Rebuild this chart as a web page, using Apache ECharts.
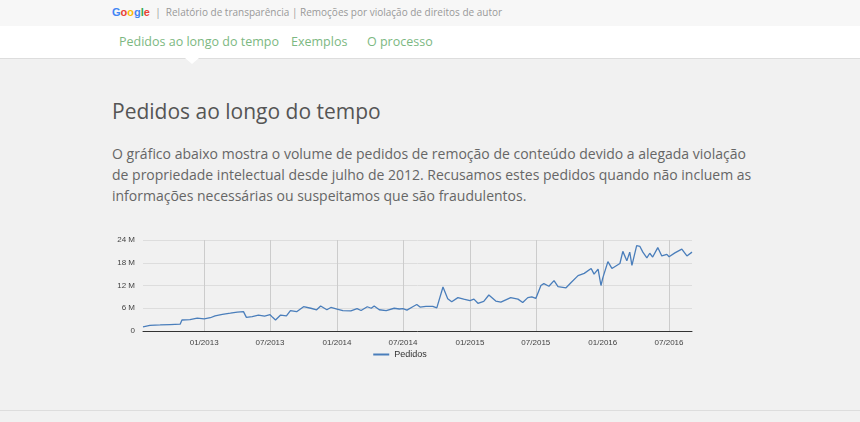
<!DOCTYPE html>
<html><head><meta charset="utf-8">
<script src="https://cdn.jsdelivr.net/npm/echarts@6/dist/echarts.min.js"></script>
<style>
body{margin:0;width:860px;height:422px;background:#f1f1f1;font-family:"Open Sans",Roboto,Arial,sans-serif;position:relative;overflow:hidden}
#top{position:absolute;left:0;top:0;width:860px;height:26px;background:#f7f7f7;font-size:10px;color:#999;line-height:24px}
#top .t{position:absolute;left:112px}
#top b{font-weight:bold;font-size:11px;font-family:Arial,sans-serif}
#nav{position:absolute;left:0;top:26px;width:860px;height:32px;background:#fff;border-bottom:1px solid #ddd}
#nav span{position:absolute;top:7px;font-size:12.5px;color:#7cb882}
#tri{position:absolute;left:185px;top:58px;width:0;height:0;border-left:7px solid transparent;border-right:7px solid transparent;border-top:6px solid #fff}
h1{position:absolute;left:112px;top:97px;margin:0;font-weight:normal;font-size:21px;color:#555}
p{position:absolute;left:112px;top:143px;margin:0;font-size:14px;line-height:21px;color:#666;width:640px}
#chart{position:absolute;left:100px;top:230px;width:600px;height:134px}
#foot{position:absolute;left:0;top:410px;width:860px;border-top:1px solid #ddd}
</style></head><body>
<div id="top"><span class="t"><b><span style="color:#4285f4">G</span><span style="color:#ea4335">o</span><span style="color:#fbbc05">o</span><span style="color:#4285f4">g</span><span style="color:#34a853">l</span><span style="color:#ea4335">e</span></b> &nbsp;|&nbsp; Relatório de transparência | Remoções por violação de direitos de autor</span></div>
<div id="nav"><span style="left:119px">Pedidos ao longo do tempo</span><span style="left:291px">Exemplos</span><span style="left:367px">O processo</span></div>
<div id="tri"></div>
<h1>Pedidos ao longo do tempo</h1>
<p>O gráfico abaixo mostra o volume de pedidos de remoção de conteúdo devido a alegada violação de propriedade intelectual desde julho de 2012. Recusamos estes pedidos quando não incluem as informações necessárias ou suspeitamos que são fraudulentos.</p>
<div id="chart"></div>
<div id="foot"></div>
<script>
const dates=["2012-07-17","2012-08-05","2012-09-02","2012-09-29","2012-10-27","2012-11-01","2012-11-23","2012-12-13","2013-01-01","2013-01-18","2013-01-31","2013-02-20","2013-03-14","2013-04-02","2013-04-19","2013-04-27","2013-05-13","2013-05-30","2013-06-16","2013-07-01","2013-07-08","2013-07-16","2013-07-30","2013-08-15","2013-08-26","2013-09-12","2013-10-01","2013-10-21","2013-11-06","2013-11-17","2013-12-04","2013-12-15","2014-01-01","2014-01-17","2014-02-08","2014-02-25","2014-03-08","2014-03-25","2014-04-05","2014-04-13","2014-04-27","2014-05-16","2014-06-07","2014-06-21","2014-07-01","2014-07-12","2014-07-28","2014-08-08","2014-08-17","2014-09-02","2014-09-21","2014-10-02","2014-10-19","2014-11-01","2014-11-12","2014-11-29","2014-12-15","2015-01-01","2015-01-12","2015-01-23","2015-02-08","2015-02-22","2015-03-13","2015-03-27","2015-04-23","2015-05-13","2015-05-26","2015-06-09","2015-06-20","2015-07-01","2015-07-15","2015-07-23","2015-08-06","2015-08-20","2015-08-31","2015-09-22","2015-10-06","2015-10-25","2015-11-11","2015-11-30","2015-12-08","2015-12-19","2015-12-27","2016-01-01","2016-01-15","2016-01-26","2016-02-17","2016-02-25","2016-03-07","2016-03-15","2016-03-21","2016-04-03","2016-04-12","2016-04-20","2016-05-01","2016-05-09","2016-05-17","2016-05-31","2016-06-11","2016-06-25","2016-07-01","2016-07-17","2016-08-05","2016-08-19","2016-09-02"];
const pedidos=[1.1,1.5,1.6,1.7,1.8,2.9,3.0,3.4,3.2,3.5,4.0,4.4,4.7,5.0,5.1,3.6,3.8,4.2,3.9,4.3,3.6,2.9,4.2,4.0,5.4,5.1,6.4,6.0,5.6,6.6,5.6,6.2,5.8,5.4,5.3,5.9,5.4,6.4,6.0,6.6,5.6,5.4,6.0,5.8,5.9,5.5,6.4,7.0,6.3,6.5,6.5,6.1,11.6,8.5,7.7,8.8,8.4,8.0,8.4,7.3,7.8,9.5,7.9,7.6,8.8,8.4,7.5,8.8,9.0,8.6,12.0,12.5,11.8,13.3,11.7,11.4,12.8,14.6,15.2,16.5,15.0,16.3,12.0,14.0,18.3,16.5,17.8,21.0,18.5,20.8,17.3,22.5,22.3,20.8,19.3,20.5,19.5,22.0,19.8,20.2,19.6,20.6,21.6,19.8,20.8];
const xTicks=["2013-01-01","2013-07-01","2014-01-01","2014-07-01","2015-01-01","2015-07-01","2016-01-01","2016-07-01"];
const ts=d=>new Date(d+"T00:00:00Z").getTime();
const tickVals=xTicks.map(ts);
const c=echarts.init(document.getElementById('chart'));
c.setOption({
 animation:false,
 grid:{left:43,right:8,top:10,bottom:33},
 legend:{bottom:0,left:'center',itemWidth:16,itemHeight:2,icon:'rect',textStyle:{fontSize:9,color:'#333'},data:['Pedidos']},
 xAxis:{type:'value',min:ts(dates[0]),max:ts(dates[dates.length-1]),
  axisLine:{lineStyle:{color:'#333'}},axisTick:{show:false,customValues:tickVals},
  axisLabel:{fontSize:8,color:'#444',customValues:tickVals,
   formatter:v=>{const d=new Date(v);return String(d.getUTCMonth()+1).padStart(2,'0')+'/'+d.getUTCFullYear();}},
  splitLine:{show:true,lineStyle:{color:'#ccc'}}},
 yAxis:{type:'value',min:0,max:24,interval:6,axisLine:{show:false},axisTick:{show:false},
  axisLabel:{fontSize:8,color:'#444',formatter:v=>v===0?'0':v+' M'},splitLine:{lineStyle:{color:'#ddd'}}},
 series:[{name:'Pedidos',type:'line',showSymbol:false,data:dates.map((d,i)=>[ts(d),pedidos[i]]),lineStyle:{color:'#4a7ebb',width:1.3},itemStyle:{color:'#4a7ebb'}}]
});
</script></body></html>
